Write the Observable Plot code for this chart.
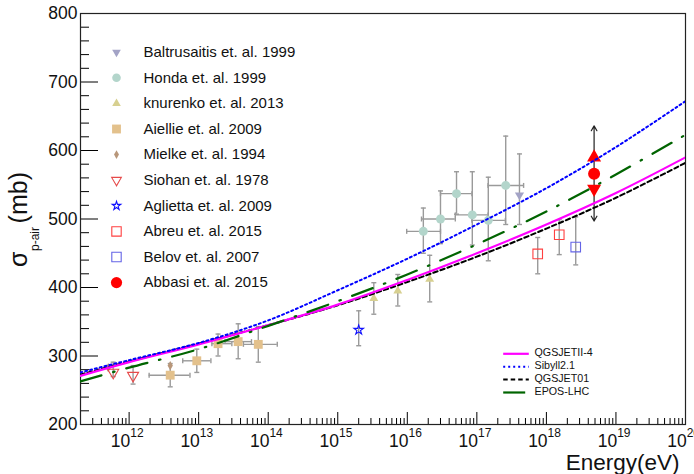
<!DOCTYPE html>
<html>
<head>
<meta charset="utf-8">
<script src="https://cdn.jsdelivr.net/npm/d3@7"></script>
<script src="https://cdn.jsdelivr.net/npm/@observablehq/plot@0.6"></script>
<style>
  html, body { margin: 0; padding: 0; background: #fff; }
  #chart { width: 694px; height: 474px; }
</style>
</head>
<body>
<div id="chart"></div>
<script>
// ---------------- data ----------------
// Energies in eV, cross sections in mb
const baltrusaitisE = [4.1e17];
const baltrusaitisS = [535];
const baltrusaitisLo = [492];
const baltrusaitisHi = [595];

const hondaE = [1.7e16, 3.0e16, 5.1e16, 8.6e16, 1.46e17, 2.6e17];
const hondaS = [482, 500, 537, 506, 498, 549];
const hondaLo = [450, 464, 507, 462, 439, 492];
const hondaHi = [516, 541, 569, 569, 561, 621];
const hondaElo = [9.8e15, 1.6e16, 3.0e16, 4.9e16, 8.5e16, 1.45e17];
const hondaEhi = [3.0e16, 4.9e16, 8.5e16, 1.45e17, 2.57e17, 4.7e17];

const knurenkoE = [3.3e15, 7.3e15, 2.1e16];
const knurenkoS = [384, 395, 412];
const knurenkoLo = [361, 373, 379];
const knurenkoHi = [407, 419, 447];

const aiellieE = [3.9e12, 9.4e12, 1.9e13, 3.7e13, 7.2e13];
const aiellieS = [272, 293, 318, 321, 317];
const aiellieLo = [255, 276, 300, 296, 291];
const aiellieHi = [289, 310, 332, 347, 343];
const aiellieElo = [1.94e12, 5.9e12, 1.55e13, 2.4e13, 4.4e13];
const aiellieEhi = [7.5e12, 1.5e13, 3.0e13, 5.75e13, 1.35e14];

const mielkeE = [5.0e11, 3.9e12];
const mielkeS = [283, 286];

const siohanE = [5.9e11, 1.14e12];
const siohanS = [276, 271.5];
const siohanLo = [270, 259];
const siohanHi = [291, 286];

const agliettaE = [2.0e15];
const agliettaS = [338];
const agliettaLo = [315];
const agliettaHi = [366];

const abreuE = [7.5e17, 1.53e18];
const abreuS = [449, 477];
const abreuLo = [420, 448];
const abreuHi = [473, 499];

const belovE = [2.64e18];
const belovS = [459];
const belovLo = [433];
const belovHi = [503];

const abbasiE = [4.85e18];
const abbasiS = [566];
const abbasiUp = [590];
const abbasiDown = [544];
const abbasiLo = [497];
const abbasiHi = [636];

// model curves, sampled at log10(E)
const modelLogE = [11.3, 12, 13, 14, 15, 16, 17, 18, 19, 20];
const qgsjetII4 = [271, 291, 317, 345, 375, 411, 450, 492, 538, 590];
const sibyll21  = [276, 294, 319, 352, 396, 442, 492, 545, 605, 672];
const qgsjet01  = [273, 292, 318, 345, 374, 408, 445, 486, 531, 582];
const eposLHC   = [263, 283, 310, 344, 380, 419, 463, 511, 565, 623];

const legendLabels = ["Baltrusaitis et. al. 1999", "Honda et. al. 1999", "knurenko et. al. 2013",
  "Aiellie et. al. 2009", "Mielke et. al. 1994", "Siohan et. al. 1978", "Aglietta et. al. 2009",
  "Abreu et. al. 2015", "Belov et. al. 2007", "Abbasi et. al. 2015"];
const modelLabels = ["QGSJETII-4", "Sibyll2.1", "QGSJET01", "EPOS-LHC"];

const xTickExps = [12, 13, 14, 15, 16, 17, 18, 19, 20];
const yTicks = [200, 300, 400, 500, 600, 700, 800];

// ---------------- helpers ----------------
const rows = (E, s, lo, hi, Elo, Ehi) => E.map((e, i) => ({
  E: e, s: s[i], lo: lo ? lo[i] : undefined, hi: hi ? hi[i] : undefined,
  Elo: Elo ? Elo[i] : undefined, Ehi: Ehi ? Ehi[i] : undefined
}));
const curve = (vals) => modelLogE.map((t, i) => ({E: Math.pow(10, t), s: vals[i]}));

const S3 = Math.sqrt(3);
const triDown = {draw(ctx, size) {
  const y = Math.sqrt(size / (3 * S3));
  ctx.moveTo(0, 2 * y); ctx.lineTo(-S3 * y, -y); ctx.lineTo(S3 * y, -y); ctx.closePath();
}};
const capH = {draw(ctx, size) { const r = Math.sqrt(size / Math.PI); ctx.moveTo(-r, 0); ctx.lineTo(r, 0); }};
const capV = {draw(ctx, size) { const r = Math.sqrt(size / Math.PI); ctx.moveTo(0, -r); ctx.lineTo(0, r); }};

const balt = rows(baltrusaitisE, baltrusaitisS, baltrusaitisLo, baltrusaitisHi);
const honda = rows(hondaE, hondaS, hondaLo, hondaHi, hondaElo, hondaEhi);
const knur = rows(knurenkoE, knurenkoS, knurenkoLo, knurenkoHi);
const aiel = rows(aiellieE, aiellieS, aiellieLo, aiellieHi, aiellieElo, aiellieEhi);
const miel = rows(mielkeE, mielkeS);
const sioh = rows(siohanE, siohanS, siohanLo, siohanHi);
const agli = rows(agliettaE, agliettaS, agliettaLo, agliettaHi);
const abre = rows(abreuE, abreuS, abreuLo, abreuHi);
const belo = rows(belovE, belovS, belovLo, belovHi);
const abba = abbasiE.map((e, i) => ({E: e, s: abbasiS[i], up: abbasiUp[i], down: abbasiDown[i], lo: abbasiLo[i], hi: abbasiHi[i]}));

const vErr = [...balt, ...honda, ...knur, ...aiel, ...sioh, ...agli, ...abre, ...belo];
const hErr = [...honda, ...aiel];

const errColor = "#9a9a9a";
const textColor = "#111";
const fontFamily = "'Liberation Sans', Arial, Helvetica, sans-serif";

// style of each legend entry (same order as legendLabels)
const legendStyles = [
  {symbol: triDown, fill: "#a3a3c6", stroke: "none", r: 3.2},
  {symbol: "circle", fill: "#b3d5cb", stroke: "none", r: 4.3},
  {symbol: "triangle", fill: "#d7d090", stroke: "none", r: 3.2},
  {symbol: "square", fill: "#e3c18c", stroke: "none", r: 5},
  {symbol: "diamond", fill: "#b8977a", stroke: "none", r: 2.6},
  {symbol: triDown, fill: "none", stroke: "#e64a4a", r: 3.6},
  {symbol: "star", fill: "none", stroke: "#1010ff", r: 2.7},
  {symbol: "square", fill: "none", stroke: "#ff4040", r: 5.3},
  {symbol: "square", fill: "none", stroke: "#6464e6", r: 5.3},
  {symbol: "circle", fill: "#ff0000", stroke: "none", r: 5.6}
];
const modelStyles = [
  {stroke: "#ff00ff", dash: null, width: 2.2},
  {stroke: "#0000ff", dash: "2,3", width: 2},
  {stroke: "#000000", dash: "4.5,3", width: 2},
  {stroke: "#006400", dash: "22,12,1.5,12", width: 2.2}
];

// ---------------- ticks ----------------
const xMajor = xTickExps.map(d => Math.pow(10, d));
const xMinor = [];
for (let d = 11; d <= 19; d++) for (let k = 2; k <= 9; k++) {
  const v = k * Math.pow(10, d);
  if (v >= 2e11 && v <= 1e20) xMinor.push(v);
}
const yMinor = d3.range(220, 800, 20).filter(v => v % 100 !== 0);

const W = 694, H = 474, mL = 80, mR = 9, mT = 13, mB = 50;
const fw = W - mL - mR, fh = H - mT - mB;

const legendMarks = [];
legendLabels.forEach((lab, i) => {
  const st = legendStyles[i];
  const dy = 38.7 + i * 25.6;
  legendMarks.push(Plot.dot([0], {frameAnchor: "top-left", dx: 36, dy, symbol: st.symbol, r: st.r,
    fill: st.fill, stroke: st.stroke, strokeWidth: 1.1}));
  legendMarks.push(Plot.text([lab], {frameAnchor: "top-left", lineAnchor: "middle", dx: 63, dy, text: d => d,
    textAnchor: "start", fontSize: 15, fill: textColor}));
});
modelLabels.forEach((lab, i) => {
  const st = modelStyles[i];
  const dy = 340.3 + i * 12.9;
  legendMarks.push(Plot.dot([0], {frameAnchor: "top-left", dx: 435.5, dy, symbol: capH, r: 12.8,
    fill: "none", stroke: st.stroke, strokeWidth: st.width, strokeDasharray: st.dash}));
  legendMarks.push(Plot.text([lab], {frameAnchor: "top-left", lineAnchor: "middle", dx: 454, dy: dy - 0.8, text: d => d,
    textAnchor: "start", fontSize: 10.7, fill: textColor}));
});

const modelData = [qgsjet01, qgsjetII4, sibyll21, eposLHC];
const modelStyleIdx = [2, 0, 1, 3];

const chart = Plot.plot({
  width: W, height: H,
  marginLeft: mL, marginRight: mR, marginTop: mT, marginBottom: mB,
  x: {type: "log", domain: [2e11, 1e20], axis: null},
  y: {domain: [200, 800], axis: null},
  style: {fontFamily, background: "#fff", overflow: "hidden"},
  marks: [
    // axis ticks (inward)
    Plot.ruleX(xMajor, {x: d => d, insetTop: fh - 12, stroke: "#000", strokeWidth: 1}),
    Plot.ruleX(xMinor, {x: d => d, insetTop: fh - 6, stroke: "#000", strokeWidth: 1}),
    Plot.ruleY(yTicks, {y: d => d, insetRight: fw - 18, stroke: "#000", strokeWidth: 1}),
    Plot.ruleY(yMinor, {y: d => d, insetRight: fw - 9, stroke: "#000", strokeWidth: 1}),
    Plot.frame({stroke: "#222", strokeWidth: 1.2}),

    // tick labels
    Plot.text(yTicks, {y: d => d, frameAnchor: "left", dx: -3, textAnchor: "end", fontSize: 17.5, fill: textColor, text: d => String(d)}),
    Plot.text(xTickExps, {x: d => Math.pow(10, d), frameAnchor: "bottom", lineAnchor: "bottom", dy: 22.7, dx: 1.2,
      textAnchor: "end", fontSize: 17.5, fill: textColor, text: () => "10"}),
    Plot.text(xTickExps, {x: d => Math.pow(10, d), frameAnchor: "bottom", lineAnchor: "bottom", dy: 12.5, dx: 1.2,
      textAnchor: "start", fontSize: 12, fill: textColor, text: d => String(d)}),

    // x axis title
    Plot.text(["Energy(eV)"], {frameAnchor: "bottom-right", lineAnchor: "bottom", dx: -6, dy: 45,
      textAnchor: "end", fontSize: 22.5, fill: textColor, text: d => d}),

    // Abbasi double arrow
    Plot.arrow(abba, {x1: "E", y1: "s", x2: "E", y2: "hi", stroke: "#222", strokeWidth: 1.2, headLength: 7}),
    Plot.arrow(abba, {x1: "E", y1: "s", x2: "E", y2: "lo", stroke: "#222", strokeWidth: 1.2, headLength: 7}),

    // error bars
    Plot.ruleX(vErr, {x: "E", y1: "lo", y2: "hi", stroke: errColor, strokeWidth: 1.4}),
    Plot.ruleY(hErr, {y: "s", x1: "Elo", x2: "Ehi", stroke: errColor, strokeWidth: 1.4}),
    Plot.dot(vErr, {x: "E", y: "lo", symbol: capH, r: 2.5, fill: "none", stroke: errColor, strokeWidth: 1.4}),
    Plot.dot(vErr, {x: "E", y: "hi", symbol: capH, r: 2.5, fill: "none", stroke: errColor, strokeWidth: 1.4}),
    Plot.dot(hErr, {x: "Elo", y: "s", symbol: capV, r: 2.5, fill: "none", stroke: errColor, strokeWidth: 1.4}),
    Plot.dot(hErr, {x: "Ehi", y: "s", symbol: capV, r: 2.5, fill: "none", stroke: errColor, strokeWidth: 1.4}),

    // data points
    Plot.dot(balt, {x: "E", y: "s", symbol: triDown, r: 3.4, fill: legendStyles[0].fill, stroke: "none"}),
    Plot.dot(honda, {x: "E", y: "s", symbol: "circle", r: 4.5, fill: legendStyles[1].fill, stroke: "none"}),
    Plot.dot(knur, {x: "E", y: "s", symbol: "triangle", r: 3.3, fill: legendStyles[2].fill, stroke: "none"}),
    Plot.dot(aiel, {x: "E", y: "s", symbol: "square", r: 5, fill: legendStyles[3].fill, stroke: "none"}),
    Plot.dot(miel, {x: "E", y: "s", symbol: "diamond", r: 2.8, fill: legendStyles[4].fill, stroke: "none"}),
    Plot.dot(sioh, {x: "E", y: "s", symbol: triDown, r: 4.1, fill: "none", stroke: legendStyles[5].stroke, strokeWidth: 1.1}),
    Plot.dot(agli, {x: "E", y: "s", symbol: "star", r: 3, fill: "none", stroke: legendStyles[6].stroke, strokeWidth: 1.1}),
    Plot.dot(abre, {x: "E", y: "s", symbol: "square", r: 5.4, fill: "none", stroke: legendStyles[7].stroke, strokeWidth: 1.1}),
    Plot.dot(belo, {x: "E", y: "s", symbol: "square", r: 5.4, fill: "none", stroke: legendStyles[8].stroke, strokeWidth: 1.1}),
    Plot.dot(abba, {x: "E", y: "up", symbol: "triangle", r: 5.2, fill: "#ff0000", stroke: "none"}),
    Plot.dot(abba, {x: "E", y: "down", symbol: triDown, r: 5.2, fill: "#ff0000", stroke: "none"}),
    Plot.dot(abba, {x: "E", y: "s", symbol: "circle", r: 6, fill: "#ff0000", stroke: "none"}),

    // model curves
    ...modelData.map((vals, i) => {
      const st = modelStyles[modelStyleIdx[i]];
      return Plot.line(curve(vals), {x: "E", y: "s", curve: "catmull-rom", stroke: st.stroke,
        strokeWidth: st.width, strokeDasharray: st.dash, clip: true});
    }),

    ...legendMarks
  ]
});

// y axis title: sigma with subscript, rotated; each piece pinned at its own position
const svg = d3.select(chart);
const yTitlePiece = (txt, x, y, size, anchor) => svg.append("text")
  .attr("transform", `translate(${x},${y}) rotate(-90)`)
  .attr("font-family", fontFamily).attr("font-size", size)
  .attr("fill", textColor).attr("text-anchor", anchor).text(txt);
yTitlePiece("σ", 26.5, 267, 25, "start");
yTitlePiece("p-air", 38.6, 227, 12, "end");
yTitlePiece("(mb)", 26.5, 172, 25, "end");

document.getElementById("chart").appendChild(chart);
</script>
</body>
</html>
